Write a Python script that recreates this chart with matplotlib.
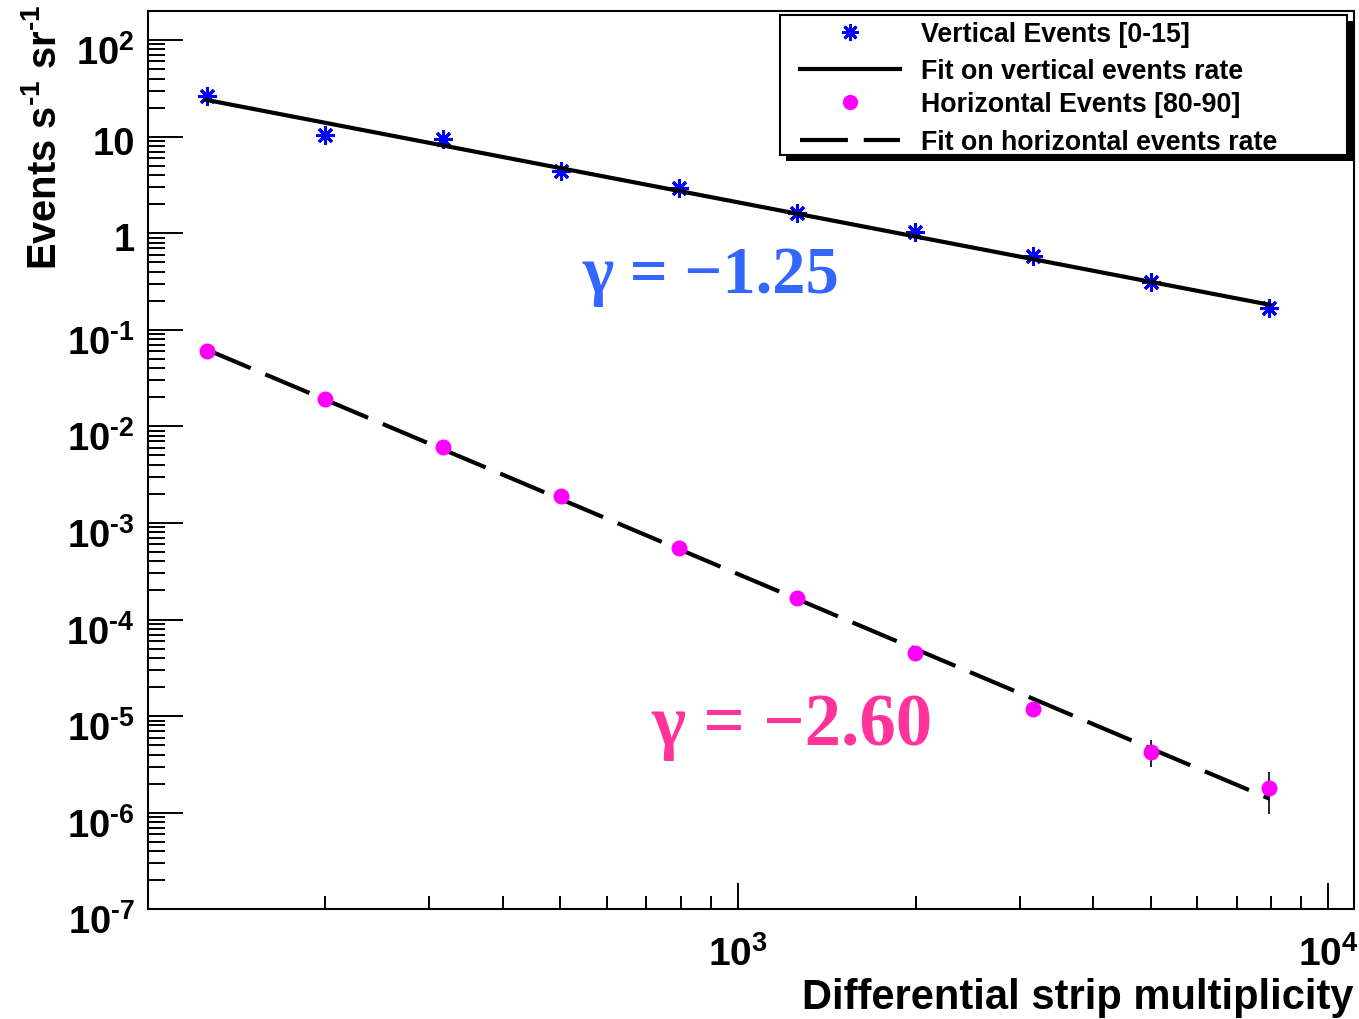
import matplotlib
matplotlib.use("Agg")
import matplotlib.pyplot as plt
import matplotlib.transforms as mtransforms
from matplotlib.lines import Line2D
from matplotlib.patches import Rectangle
from matplotlib.ticker import FixedLocator, FixedFormatter, NullFormatter

# ---------------- data ----------------
multiplicity = [125.9, 199.5, 316.2, 501.2, 794.3, 1259, 1995, 3162, 5012, 7943]
vertical_rate = [26.4, 10.3, 9.4, 4.43, 2.95, 1.63, 1.04, 0.585, 0.315, 0.170]
horizontal_rate = [0.061, 0.019, 0.0061, 0.0019, 5.5e-4, 1.67e-4, 4.5e-5, 1.19e-5, 4.3e-6, 1.8e-6]
horizontal_err = [0, 0, 0, 0, 0, 0, 0, 0, 1.3e-6, 0.84e-6]

fit_x = [125.9, 7943]
vertical_fit_y = [24.0, 0.182]
horizontal_fit_y = [0.0625, 1.40e-6]

legend_labels = ["Vertical Events [0-15]", "Fit on vertical events rate",
                 "Horizontal Events [80-90]", "Fit on horizontal events rate"]
gamma_labels = ["\u03b3 = \u22121.25", "\u03b3 = \u22122.60"]

y_major = [1e-7, 1e-6, 1e-5, 1e-4, 1e-3, 1e-2, 1e-1, 1, 10, 100]
y_labels = [r"$10^{\text{-}7}$", r"$10^{\text{-}6}$", r"$10^{\text{-}5}$", r"$10^{\text{-}4}$",
            r"$10^{\text{-}3}$", r"$10^{\text{-}2}$", r"$10^{\text{-}1}$", "1", "10", r"$10^{2}$"]
x_major = [1e3, 1e4]
x_labels = [r"$10^{3}$", r"$10^{4}$"]

# ---------------- style ----------------
plt.rcParams['font.family'] = ['Liberation Sans', 'DejaVu Sans']
plt.rcParams['font.weight'] = 'bold'
plt.rcParams['mathtext.fontset'] = 'custom'
plt.rcParams['mathtext.rm'] = 'Liberation Sans:bold'
plt.rcParams['mathtext.bf'] = 'Liberation Sans:bold'
plt.rcParams['mathtext.it'] = 'Liberation Sans:bold'
plt.rcParams['mathtext.default'] = 'rm'

W, H = 1359, 1019
fig = plt.figure(figsize=(W / 100, H / 100), dpi=100)

def fx(px):
    return px / W

def fy(py):
    return 1 - py / H

ax = fig.add_axes([fx(147.5), fy(909.3), fx(1354) - fx(147.5), fy(11) - fy(909.3)])
ax.set_xscale('log')
ax.set_yscale('log')
ax.set_xlim(100, 11050)
ax.set_ylim(1e-7, 200)

for s in ax.spines.values():
    s.set_linewidth(1.5)

# data
ax.plot(multiplicity, vertical_rate, linestyle='none', marker=(8, 2, 0),
        markersize=13, markeredgewidth=2.2, color='#0000ff', zorder=2)
ax.plot(fit_x, vertical_fit_y, color='black', linewidth=3, zorder=3)
ax.plot(fit_x, horizontal_fit_y, color='black', linewidth=3, zorder=3,
        dashes=(11.5, 3.8))
ax.errorbar(multiplicity, horizontal_rate, yerr=horizontal_err, fmt='o',
            color='#ff00ff', markersize=11.5, markeredgewidth=0,
            ecolor='black', elinewidth=1.2, capsize=3, capthick=1.2, zorder=4)

# ticks
ax.yaxis.set_major_locator(FixedLocator(y_major))
ax.yaxis.set_major_formatter(NullFormatter())
y_minor = [m * 10.0 ** e for e in range(-7, 3) for m in range(2, 10)]
ax.yaxis.set_minor_locator(FixedLocator(y_minor))
ax.yaxis.set_minor_formatter(NullFormatter())
ax.xaxis.set_major_locator(FixedLocator(x_major))
ax.xaxis.set_major_formatter(FixedFormatter(x_labels))
x_minor = [m * 10.0 ** e for e in range(2, 5) for m in range(2, 10)]
ax.xaxis.set_minor_locator(FixedLocator(x_minor))
ax.xaxis.set_minor_formatter(NullFormatter())

ax.tick_params(axis='both', which='both', direction='in', top=False, right=False,
               width=1.4, labelsize=28, colors='black')
ax.tick_params(axis='y', which='major', length=25, labelleft=False)
ax.tick_params(axis='y', which='minor', length=12.5)
ax.tick_params(axis='x', which='major', length=19, pad=19)
ax.tick_params(axis='x', which='minor', length=9.5)

# y tick labels placed ROOT-style (digits hang below the tick position)
for val, lab in zip(y_major, y_labels):
    drop = 25 if '^' in lab else 18
    tr = ax.get_yaxis_transform() + mtransforms.ScaledTranslation(-12.5 / 100, -drop / 100,
                                                                  fig.dpi_scale_trans)
    ax.text(0, val, lab, transform=tr, ha='right', va='baseline', fontsize=27.5,
            fontweight='bold', clip_on=False)

# axis titles
fig.text(fx(1354), fy(1009), "Differential strip multiplicity", ha='right', va='baseline',
         fontsize=30, fontweight='bold')
fig.text(fx(64), fy(4), r"Events s$^{\text{-}1}$ sr$^{\text{-}1}$", rotation=90,
         ha='right', va='top', fontsize=28.7, fontweight='bold')

# gamma annotations
fig.text(fx(582), fy(293), gamma_labels[0], ha='left', va='baseline', color='#3366ff',
         fontsize=48, fontweight='bold', family=['Liberation Serif', 'DejaVu Serif'])
fig.text(fx(651), fy(745), gamma_labels[1], ha='left', va='baseline', color='#ff3399',
         fontsize=52.5, fontweight='bold', family=['Liberation Serif', 'DejaVu Serif'])

# legend box with ROOT-style shadow
fig.add_artist(Rectangle((fx(786), fy(161)), fx(1353) - fx(786), fy(21) - fy(161),
                         transform=fig.transFigure, facecolor='black', edgecolor='none', zorder=5))
fig.add_artist(Rectangle((fx(780), fy(155)), fx(1347) - fx(780), fy(15) - fy(155),
                         transform=fig.transFigure, facecolor='white', edgecolor='black',
                         linewidth=1.5, zorder=6))
rows = [32, 69, 102, 140]
handles = [
    dict(marker=(8, 2, 0), markersize=12, markeredgewidth=2.0, color='#0000ff', linestyle='none'),
    dict(color='black', linewidth=3),
    dict(marker='o', markersize=11, markeredgewidth=0, color='#ff00ff', linestyle='none'),
    dict(color='black', linewidth=3, dashes=(11.5, 3.8)),
]
for i, (r, h, lab) in enumerate(zip(rows, handles, legend_labels)):
    if 'marker' in h:
        fig.add_artist(Line2D([fx(850)], [fy(r)], transform=fig.transFigure, zorder=7, **h))
    else:
        fig.add_artist(Line2D([fx(800), fx(900)], [fy(r), fy(r)], transform=fig.transFigure,
                              zorder=7, **h))
    fig.text(fx(921), fy(r), lab, ha='left', va='center_baseline', fontsize=19.3,
             fontweight='bold', zorder=8)

fig.savefig("out.png", dpi=100)
